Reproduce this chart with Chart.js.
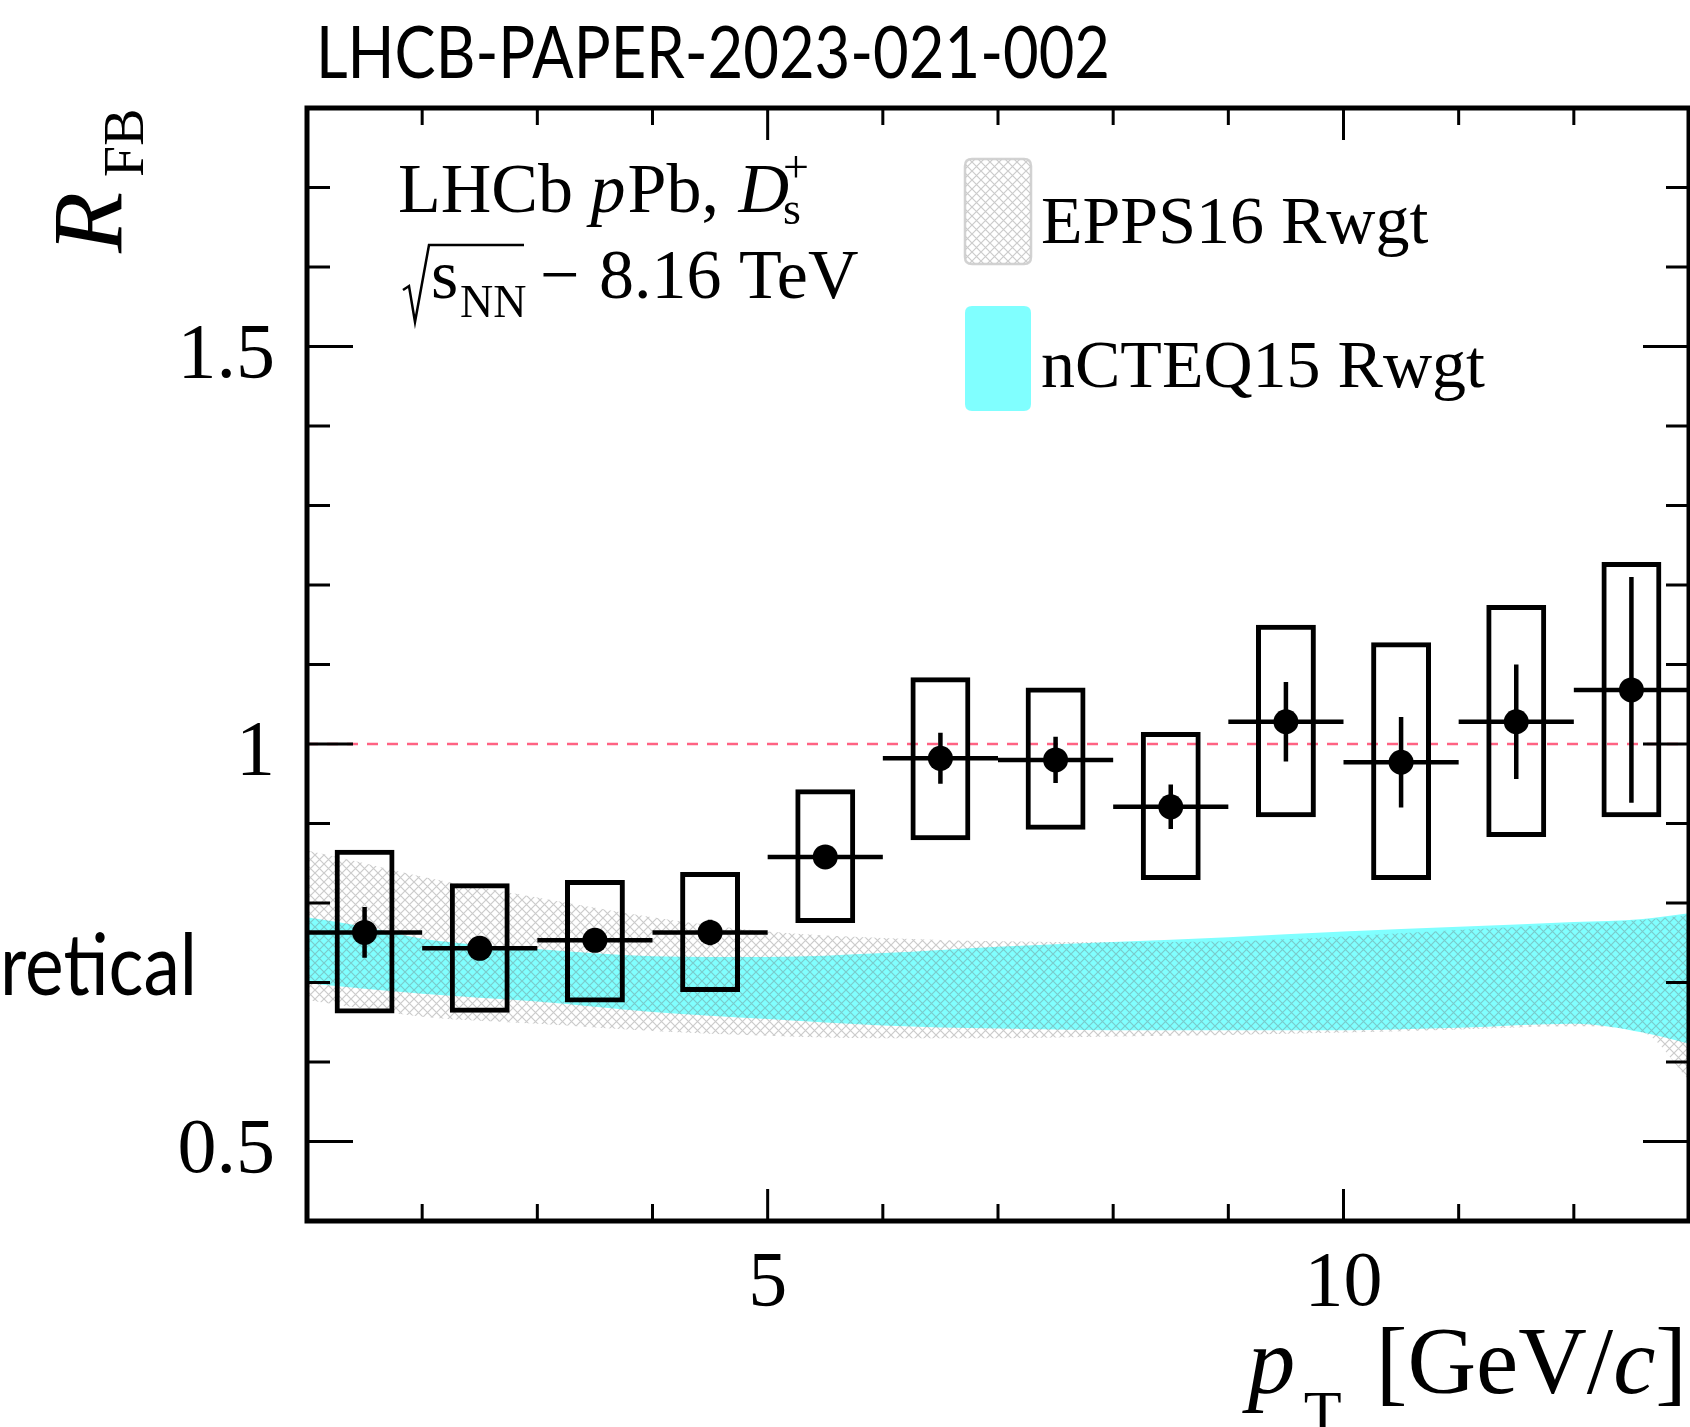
<!DOCTYPE html>
<html>
<head>
<meta charset="utf-8">
<title>R_FB of Ds+ in pPb at 8.16 TeV</title>
<script src="https://cdn.jsdelivr.net/npm/chart.js@4.4.1/dist/chart.umd.min.js"></script>
<style>
  html, body { margin: 0; padding: 0; background: #fff; }
  canvas { display: block; }
</style>
</head>
<body>
<canvas id="rfb" width="1690" height="1427"></canvas>
<script>
// LHCb measurement, one point per 1 GeV/c pT bin
const binCentres = [1.5, 2.5, 3.5, 4.5, 5.5, 6.5, 7.5, 8.5, 9.5, 10.5, 11.5, 12.5];
const binHalfWidth = 0.5;
const rfbValues = [0.763, 0.743, 0.753, 0.763, 0.858, 0.982, 0.980, 0.921, 1.028, 0.977, 1.028, 1.068];
const statErr = [0.032, 0.012, 0.012, 0.016, 0.012, 0.032, 0.029, 0.028, 0.050, 0.057, 0.072, 0.142];
const systLow = [0.661, 0.662, 0.675, 0.688, 0.775, 0.879, 0.892, 0.829, 0.908, 0.829, 0.883, 0.908];
const systHigh = [0.867, 0.825, 0.829, 0.839, 0.943, 1.084, 1.071, 1.015, 1.150, 1.128, 1.175, 1.229];

// reweighted nPDF predictions (lower / upper edge of each band)
const bandPt = [1, 1.5, 2, 3, 4, 5, 6, 7, 8, 9, 10, 11, 12, 12.6, 13];
const nctaqLow = [0.699, 0.692, 0.686, 0.676, 0.663, 0.654, 0.646, 0.642, 0.640, 0.640, 0.640, 0.643, 0.648, 0.637, 0.623];
const nctaqHigh = [0.782, 0.770, 0.755, 0.742, 0.733, 0.732, 0.737, 0.745, 0.751, 0.757, 0.764, 0.770, 0.776, 0.780, 0.787];
const eppsLow = [0.678, 0.667, 0.657, 0.648, 0.639, 0.633, 0.630, 0.630, 0.632, 0.634, 0.637, 0.641, 0.645, 0.637, 0.577];
const eppsHigh = [0.866, 0.850, 0.833, 0.807, 0.782, 0.764, 0.756, 0.752, 0.751, 0.752, 0.758, 0.766, 0.774, 0.779, 0.785];

const unityLine = 1;

const xRange = [1, 13];
const yRange = [0.4, 1.8];
const xMajorTicks = [5, 10];
const xMinorTicks = [2, 3, 4, 6, 7, 8, 9, 11, 12];
const yMajorTicks = [0.5, 1, 1.5];
const yMinorTicks = [0.6, 0.7, 0.8, 0.9, 1.1, 1.2, 1.3, 1.4, 1.6, 1.7];
const xTickLabels = ["5", "10"];
const yTickLabels = ["0.5", "1", "1.5"];

const SERIF = "'Liberation Serif', 'DejaVu Serif', serif";
const SANS = "Lato, 'Open Sans', sans-serif";
const CYAN = "rgb(128, 255, 255)";

const canvas = document.getElementById("rfb");
const mainCtx = canvas.getContext("2d");

function makeHatch() {
    const tile = document.createElement("canvas");
    tile.width = 9;
    tile.height = 9;
    const g = tile.getContext("2d");
    g.strokeStyle = "rgba(110, 110, 110, 0.36)";
    g.lineWidth = 1.2;
    g.beginPath();
    g.moveTo(-1, -1);
    g.lineTo(10, 10);
    g.moveTo(10, -1);
    g.lineTo(-1, 10);
    g.stroke();
    return mainCtx.createPattern(tile, "repeat");
}
const hatch = makeHatch();

const toPoints = (xs, ys) => xs.map((x, i) => ({ x, y: ys[i] }));

// draws a string at (x, y), returns its advance width
function drawText(ctx, str, x, y, font, opts = {}) {
    ctx.save();
    ctx.font = font;
    ctx.textAlign = opts.align || "left";
    ctx.textBaseline = "alphabetic";
    ctx.fillStyle = "#000";
    const sx = opts.sx || 1;
    const w = ctx.measureText(str).width * sx;
    ctx.translate(x, y);
    ctx.scale(sx, opts.sy || 1);
    ctx.fillText(str, 0, 0);
    ctx.restore();
    return w;
}

function measure(ctx, str, font) {
    ctx.save();
    ctx.font = font;
    const w = ctx.measureText(str).width;
    ctx.restore();
    return w;
}

function roundedRect(ctx, x, y, w, h, r) {
    ctx.beginPath();
    ctx.moveTo(x + r, y);
    ctx.lineTo(x + w - r, y);
    ctx.quadraticCurveTo(x + w, y, x + w, y + r);
    ctx.lineTo(x + w, y + h - r);
    ctx.quadraticCurveTo(x + w, y + h, x + w - r, y + h);
    ctx.lineTo(x + r, y + h);
    ctx.quadraticCurveTo(x, y + h, x, y + h - r);
    ctx.lineTo(x, y + r);
    ctx.quadraticCurveTo(x, y, x + r, y);
    ctx.closePath();
}

// horizontal bin-width bars and vertical statistical error bars
const errorBars = {
    id: "errorBars",
    afterDatasetsDraw(chart) {
        const { ctx, scales: { x, y } } = chart;
        ctx.save();
        ctx.strokeStyle = "#000";
        ctx.lineWidth = 4.5;
        ctx.beginPath();
        for(let i = 0; i < binCentres.length; i++) {
            const px = x.getPixelForValue(binCentres[i]);
            const py = y.getPixelForValue(rfbValues[i]);
            ctx.moveTo(x.getPixelForValue(binCentres[i] - binHalfWidth), py);
            ctx.lineTo(x.getPixelForValue(binCentres[i] + binHalfWidth), py);
            ctx.moveTo(px, y.getPixelForValue(rfbValues[i] - statErr[i]));
            ctx.lineTo(px, y.getPixelForValue(rfbValues[i] + statErr[i]));
        }
        ctx.stroke();
        ctx.restore();
    },
};

// ROOT style frame with inward ticks on all four sides
const frame = {
    id: "frame",
    afterDraw(chart) {
        const { ctx, chartArea: a, scales: { x, y } } = chart;
        ctx.save();
        ctx.strokeStyle = "#000";
        ctx.lineWidth = 3;
        ctx.beginPath();
        const xTick = (v, len) => {
            const px = x.getPixelForValue(v);
            ctx.moveTo(px, a.bottom);
            ctx.lineTo(px, a.bottom - len);
            ctx.moveTo(px, a.top);
            ctx.lineTo(px, a.top + len);
        };
        const yTick = (v, len) => {
            const py = y.getPixelForValue(v);
            ctx.moveTo(a.left, py);
            ctx.lineTo(a.left + len, py);
            ctx.moveTo(a.right, py);
            ctx.lineTo(a.right - len, py);
        };
        xMajorTicks.forEach(v => xTick(v, 32));
        xMinorTicks.forEach(v => xTick(v, 17));
        yMajorTicks.forEach(v => yTick(v, 46));
        yMinorTicks.forEach(v => yTick(v, 23));
        ctx.stroke();
        ctx.lineWidth = 5;
        ctx.strokeRect(a.left, a.top, a.right - a.left, a.bottom - a.top);
        ctx.restore();

        // tick labels
        const tickFont = "78px " + SERIF;
        yMajorTicks.forEach((v, i) => {
            drawText(ctx, yTickLabels[i], a.left - 32, y.getPixelForValue(v) + 30, tickFont, { align: "right" });
        });
        xMajorTicks.forEach((v, i) => {
            drawText(ctx, xTickLabels[i], x.getPixelForValue(v), a.bottom + 84, tickFont, { align: "center" });
        });
    },
};

const labels = {
    id: "labels",
    afterDraw(chart) {
        const { ctx, chartArea: a } = chart;

        // page heading
        const head = "LHCB-PAPER-2023-021-002";
        const headFont = "72px " + SANS;
        drawText(ctx, head, 316, 78, headFont, { sx: 794 / measure(ctx, head, headFont) });

        // side caption, running off the left edge
        const sideFont = "86px " + SANS;
        const sx = 197 / measure(ctx, "retical", sideFont);
        drawText(ctx, "Theoretical", 197, 995, sideFont, { align: "right", sx });

        // y axis title
        ctx.save();
        ctx.translate(121, 253);
        ctx.rotate(-Math.PI / 2);
        drawText(ctx, "R", 0, 0, "italic 100px " + SERIF);
        drawText(ctx, "FB", 76, 22, "56px " + SERIF);
        ctx.restore();

        // x axis title, right aligned to the frame
        const big = "95px " + SERIF;
        const bigIt = "italic 95px " + SERIF;
        const unitsW = measure(ctx, "[GeV/", big) + measure(ctx, "c", bigIt) + measure(ctx, "]", big);
        let ux = a.right - 2 - unitsW;
        drawText(ctx, "p", ux - 128, 1393, bigIt);
        drawText(ctx, "T", ux - 72, 1433, "62px " + SERIF);
        ux += drawText(ctx, "[GeV/", ux, 1393, big);
        ux += drawText(ctx, "c", ux, 1393, bigIt);
        drawText(ctx, "]", ux, 1393, big);

        // experiment / system label
        const f = "70px " + SERIF;
        const fIt = "italic 70px " + SERIF;
        const small = "46px " + SERIF;
        let tx = 398;
        tx += drawText(ctx, "LHCb ", tx, 212, f);
        tx += drawText(ctx, "p", tx, 212, fIt);
        tx += drawText(ctx, "Pb, ", tx + 2, 212, f);
        tx += drawText(ctx, "D", tx + 4, 212, fIt);
        drawText(ctx, "s", tx - 2, 224, small);
        drawText(ctx, "+", tx - 2, 182, small);

        ctx.save();
        ctx.strokeStyle = "#000";
        ctx.lineWidth = 2.5;
        ctx.beginPath();
        ctx.moveTo(403, 290);
        ctx.lineTo(409, 286);
        ctx.lineTo(415, 322);
        ctx.lineTo(429, 245);
        ctx.lineTo(524, 245);
        ctx.stroke();
        ctx.restore();
        drawText(ctx, "s", 431, 298, f);
        drawText(ctx, "NN", 460, 317, small);
        drawText(ctx, "\u2212", 540, 298, f);
        drawText(ctx, "8.16 TeV", 599, 298, f);

        // legend
        const legendFont = "68px " + SERIF;
        ctx.save();
        roundedRect(ctx, 965, 159, 66, 105, 7);
        ctx.fillStyle = "#fff";
        ctx.fill();
        ctx.fillStyle = hatch;
        ctx.fill();
        ctx.strokeStyle = "rgba(205, 205, 205, 0.9)";
        ctx.lineWidth = 2.5;
        ctx.stroke();
        roundedRect(ctx, 965, 306, 66, 105, 7);
        ctx.fillStyle = CYAN;
        ctx.fill();
        ctx.restore();
        drawText(ctx, "EPPS16 Rwgt", 1041, 243, legendFont);
        drawText(ctx, "nCTEQ15 Rwgt", 1041, 387, legendFont);
    },
};

const band = (data, order, extra) => Object.assign({
    type: "line",
    data,
    order,
    borderColor: "transparent",
    borderWidth: 0,
    pointRadius: 0,
    tension: 0.4,
    cubicInterpolationMode: "monotone",
    fill: false,
}, extra);

new Chart(mainCtx, {
    type: "line",
    data: {
        datasets: [
            band(toPoints(bandPt, nctaqLow), 6),
            band(toPoints(bandPt, nctaqHigh), 5, { fill: "-1", backgroundColor: CYAN }),
            band(toPoints(bandPt, eppsLow), 6),
            band(toPoints(bandPt, eppsHigh), 4, { fill: "-1", backgroundColor: hatch }),
            {
                type: "line",
                data: toPoints(xRange, [unityLine, unityLine]),
                order: 3,
                borderColor: "rgba(255, 60, 100, 0.8)",
                borderWidth: 2.5,
                borderDash: [11, 9],
                pointRadius: 0,
                fill: false,
            },
            {
                type: "bar",
                data: binCentres.map((x, i) => ({ x, y: [systLow[i], systHigh[i]] })),
                order: 1,
                backgroundColor: "transparent",
                borderColor: "#000",
                borderWidth: 5,
                borderSkipped: false,
                barPercentage: 0.52,
                categoryPercentage: 1,
            },
            {
                type: "line",
                data: toPoints(binCentres, rfbValues),
                order: 0,
                showLine: false,
                pointRadius: 12.5,
                pointBackgroundColor: "#000",
                pointBorderWidth: 0,
            },
        ],
    },
    options: {
        responsive: false,
        animation: false,
        events: [],
        layout: { autoPadding: false, padding: { left: 307, top: 108, right: 1, bottom: 206 } },
        plugins: {
            legend: { display: false },
            tooltip: { enabled: false },
            title: { display: false },
        },
        scales: {
            x: { type: "linear", min: xRange[0], max: xRange[1], offset: false, display: false },
            y: { type: "linear", min: yRange[0], max: yRange[1], beginAtZero: false, display: false },
        },
    },
    plugins: [errorBars, frame, labels],
});
</script>
</body>
</html>
